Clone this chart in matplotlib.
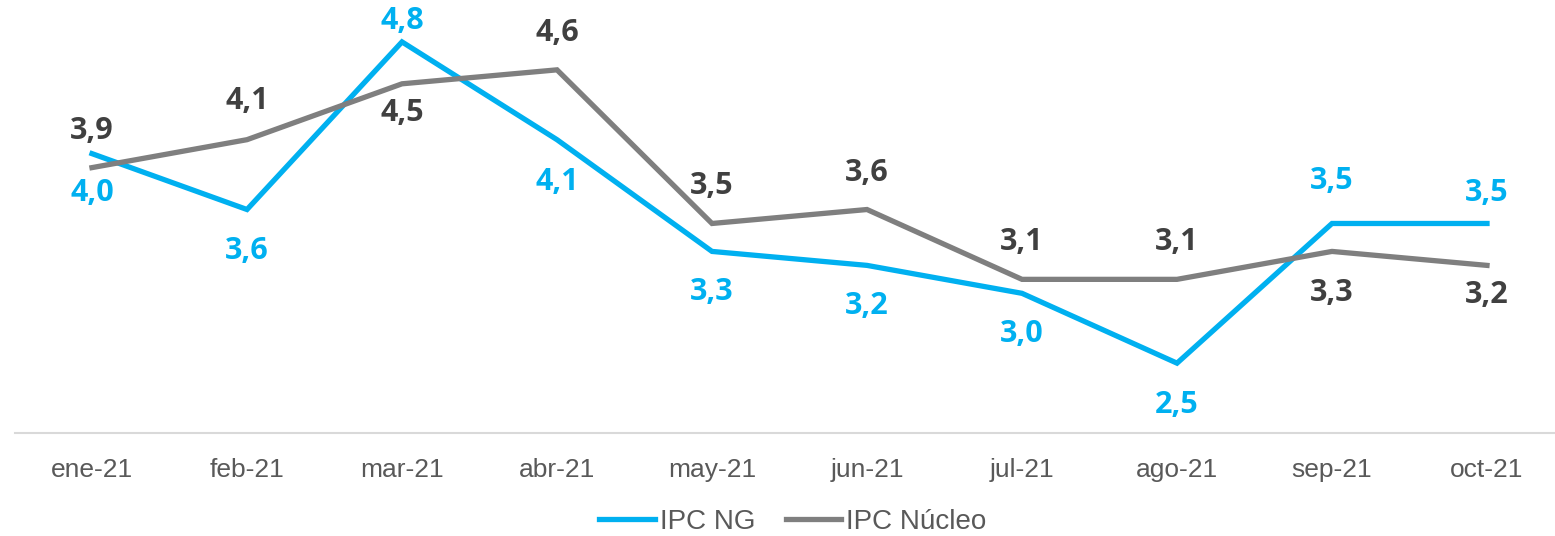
import matplotlib
matplotlib.use("Agg")
from matplotlib import pyplot as plt

meses = ['ene-21', 'feb-21', 'mar-21', 'abr-21', 'may-21',
         'jun-21', 'jul-21', 'ago-21', 'sep-21', 'oct-21']
ipc_ng = [4.0, 3.6, 4.8, 4.1, 3.3, 3.2, 3.0, 2.5, 3.5, 3.5]
ipc_nucleo = [3.9, 4.1, 4.5, 4.6, 3.5, 3.6, 3.1, 3.1, 3.3, 3.2]
# label offsets in pixels (+ above the point, - below)
desp_ng = [-39, -41, 21, -42, -41, -41, -41, -42, 42, 30]
desp_nucleo = [37, 39, -29, 37, 37, 37, 37, 37, -42, -30]

azul = '#00B0F0'
gris = '#7F7F7F'
oscuro = '#404040'

fig = plt.figure(figsize=(15.55, 5.36), dpi=100)
ax = fig.add_axes([14.5 / 1555, 103 / 536, 1550 / 1555, 433 / 536])
x = range(len(meses))
ax.plot(x, ipc_ng, color=azul, lw=3.8, label='IPC NG', solid_joinstyle='miter')
ax.plot(x, ipc_nucleo, color=gris, lw=3.8, label='IPC Núcleo', solid_joinstyle='miter')

px = 0.72  # points per pixel at dpi 100
for serie, desp, color in [(ipc_ng, desp_ng, azul), (ipc_nucleo, desp_nucleo, oscuro)]:
    for i, v in enumerate(serie):
        ax.annotate(f'{v:.1f}'.replace('.', ','), (i, v), xytext=(0, desp[i] * px),
                    textcoords='offset points', ha='center', va='center',
                    color=color, fontsize=22, fontweight='bold', family='Open Sans')

ax.set_xlim(-0.5, 9.5)
ax.set_ylim(2.0, 5.1)
ax.set_xticks(list(x))
ax.set_xticklabels(meses, family='Liberation Sans', fontsize=19, color='#595959')
ax.tick_params(axis='x', length=0, pad=18)
ax.set_yticks([])
for s in ['top', 'right', 'left']:
    ax.spines[s].set_visible(False)
ax.spines['bottom'].set_color('#D9D9D9')
ax.spines['bottom'].set_linewidth(1.5)

fig.legend(loc='center', bbox_to_anchor=(793 / 1555, 14 / 536), ncol=2, frameon=False,
           prop={'family': 'Liberation Sans', 'size': 20}, labelcolor='#595959',
           handlelength=2.0, handletextpad=0.18, columnspacing=1.1)

fig.savefig('out.png', dpi=100)
